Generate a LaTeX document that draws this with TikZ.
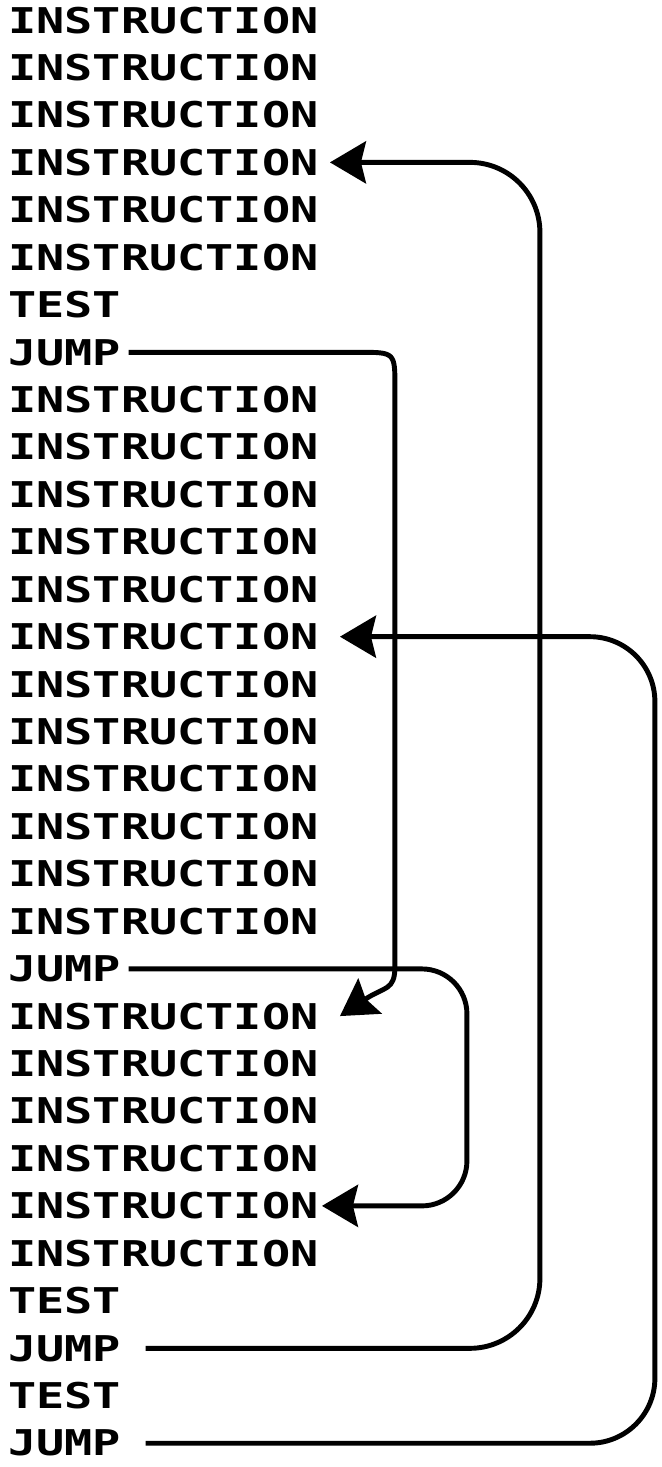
\documentclass[tikz,border=0pt]{standalone}
\usepackage{fontspec}
\usepackage{tikz}
\usetikzlibrary{arrows.meta,calc}
\newfontfamily\termfont[FakeStretch=1.32]{DejaVu Sans Mono}

\begin{document}
\begin{tikzpicture}[
    x=0.02cm, y=-0.02cm,
    instr/.style={anchor=base west, inner sep=0pt, font=\termfont\bfseries\fontsize{20.2}{24}\selectfont},
    jumpline/.style={line width=2.8pt, line join=round, -{Stealth[length=0.72cm, width=0.84cm, inset=0.1cm]}}
  ]
    \useasboundingbox (0,0) rectangle (662,1467);

    \node[instr] (l1)  at (8,33)     {INSTRUCTION};
    \node[instr] (l2)  at (8,80.4)   {INSTRUCTION};
    \node[instr] (l3)  at (8,127.9)  {INSTRUCTION};
    \node[instr] (l4)  at (8,175.3)  {INSTRUCTION};
    \node[instr] (l5)  at (8,222.7)  {INSTRUCTION};
    \node[instr] (l6)  at (8,270.2)  {INSTRUCTION};
    \node[instr] (l7)  at (8,317.6)  {TEST};
    \node[instr] (l8)  at (8,365.0)  {JUMP};
    \node[instr] (l9)  at (8,412.4)  {INSTRUCTION};
    \node[instr] (l10) at (8,459.9)  {INSTRUCTION};
    \node[instr] (l11) at (8,507.3)  {INSTRUCTION};
    \node[instr] (l12) at (8,554.7)  {INSTRUCTION};
    \node[instr] (l13) at (8,602.2)  {INSTRUCTION};
    \node[instr] (l14) at (8,649.6)  {INSTRUCTION};
    \node[instr] (l15) at (8,697.0)  {INSTRUCTION};
    \node[instr] (l16) at (8,744.5)  {INSTRUCTION};
    \node[instr] (l17) at (8,791.9)  {INSTRUCTION};
    \node[instr] (l18) at (8,839.3)  {INSTRUCTION};
    \node[instr] (l19) at (8,886.7)  {INSTRUCTION};
    \node[instr] (l20) at (8,934.2)  {INSTRUCTION};
    \node[instr] (l21) at (8,981.6)  {JUMP};
    \node[instr] (l22) at (8,1029.0) {INSTRUCTION};
    \node[instr] (l23) at (8,1076.5) {INSTRUCTION};
    \node[instr] (l24) at (8,1123.9) {INSTRUCTION};
    \node[instr] (l25) at (8,1171.3) {INSTRUCTION};
    \node[instr] (l26) at (8,1218.8) {INSTRUCTION};
    \node[instr] (l27) at (8,1266.2) {INSTRUCTION};
    \node[instr] (l28) at (8,1313.6) {TEST};
    \node[instr] (l29) at (8,1361.0) {JUMP};
    \node[instr] (l30) at (8,1408.5) {TEST};
    \node[instr] (l31) at (8,1455.9) {JUMP};

    % jump starts and targets
    \coordinate (s8)  at ([xshift=0.14cm]l8.east);
    \coordinate (s21) at ([xshift=0.14cm]l21.east);
    \coordinate (s29) at ([xshift=0.48cm]l29.east);
    \coordinate (s31) at ([xshift=0.48cm]l31.east);
    \coordinate (t4)  at ([xshift=0.22cm]l4.east);
    \coordinate (t14) at ([xshift=0.42cm]l14.east);
    \coordinate (t22) at ([xshift=0.42cm]l22.east);
    \coordinate (t26) at ([xshift=0.06cm]l26.east);
    \coordinate (b8)  at ($(t22)+(55,-50)$);
    \coordinate (c8)  at (b8 |- s8);

    \draw[jumpline] (s8) -- ($(c8)+(-35,0)$) .. controls (c8) .. ($(c8)+(0,35)$) -- (b8)
      .. controls ($(b8)+(0,25)$) and ($(t22)+(45,-30)$) .. (t22);
    \draw[jumpline, rounded corners=0.9cm] (s21) -| ([xshift=2.9cm]t26) -- (t26);
    \draw[jumpline, rounded corners=1.4cm] (s29) -| ([xshift=4.2cm]t4) -- (t4);
    \draw[jumpline, rounded corners=1.3cm] (s31) -| ([xshift=6.3cm]t14) -- (t14);
  \end{tikzpicture}
\end{document}
